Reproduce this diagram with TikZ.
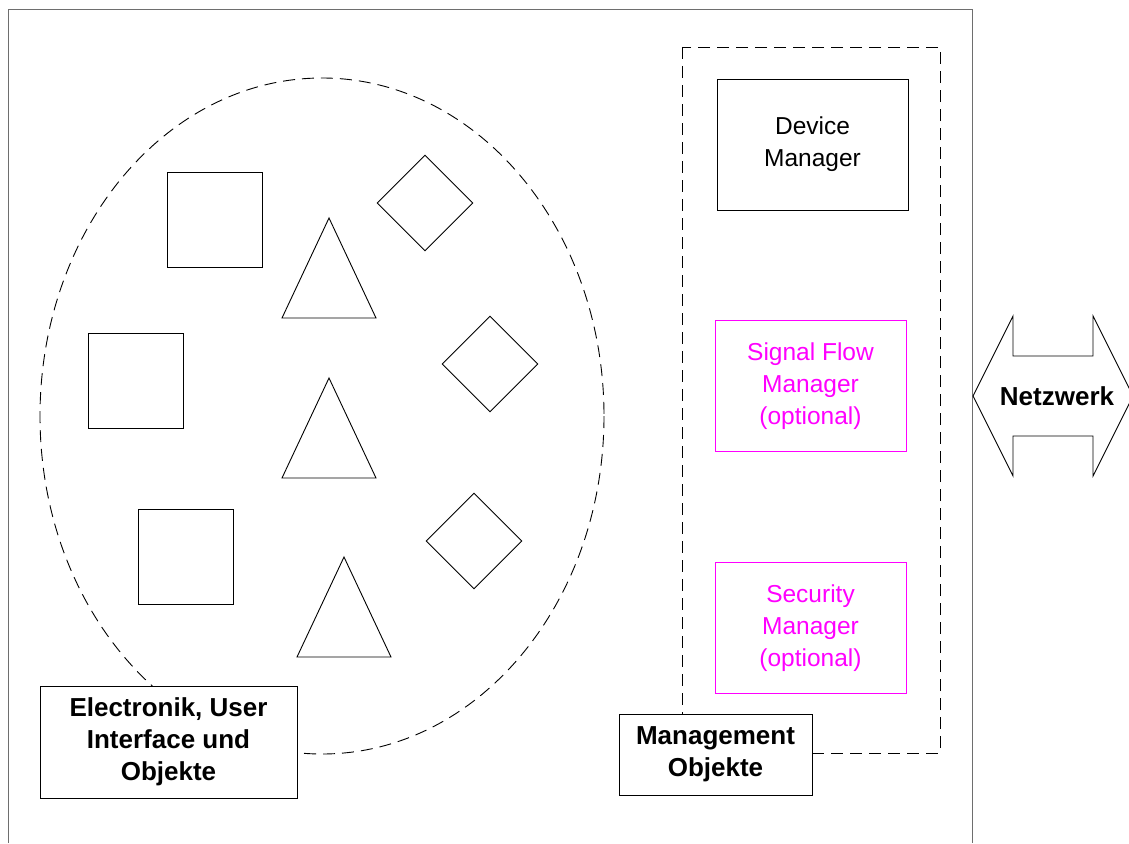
\documentclass[tikz,border=0pt]{standalone}
\usepackage{fontspec}
\setmainfont{Liberation Sans}
\usetikzlibrary{positioning,shapes.geometric}
\definecolor{optmag}{RGB}{255,0,255}
\definecolor{framegray}{RGB}{110,110,110}

\begin{document}
\begin{tikzpicture}[
		x=1pt, y=-1pt,
		line width=0.9pt,
		dashline/.style={dash pattern=on 12pt off 7pt},
		mgrbox/.style={
			draw,
			minimum width=191pt,
			minimum height=131pt,
			align=center,
			font=\fontsize{24.5}{32}\selectfont
		},
		optbox/.style={mgrbox, draw=optmag, text=optmag},
		tagbox/.style={
			draw,
			fill=white,
			align=center,
			inner sep=0pt,
			font=\fontsize{26}{32}\selectfont\bfseries
		},
		sq/.style={draw, minimum size=95pt, inner sep=0pt},
		dia/.style={draw, diamond, minimum size=96pt, inner sep=0pt}
		]
		
		\useasboundingbox (0,0) rectangle (1129,843);
		
		% outer frame, open at the bottom
		\draw[framegray] (8,843) -- (8,9) -- (972,9) -- (972,843);
		
		% objects
		\draw[dashline] (322,416) ellipse [x radius=282, y radius=338];
		
		\node[sq] (sq1) at (215,219.5) {};
		\node[sq] (sq2) at (136,380.5) {};
		\node[sq] (sq3) at (186,557) {};
		
		\node[dia] (dia1) at (425,203) {};
		\node[dia] (dia2) at (490,364) {};
		\node[dia] (dia3) at (474,541) {};
		
		\foreach \x/\y in {329/218, 329/378, 344/557}
		\draw (\x,\y) -- ++(47,100) -- ++(-94,0) -- cycle;
		
		% management column
		\draw[dashline] (682,47) rectangle (940,753);
		
		\node[mgrbox] (dev) at (812.5,144.5) {Device\\ Manager};
		
		\node[optbox] (flow) [below=110pt of dev, xshift=-2pt]
		{Signal Flow\\ Manager\\ (optional)};
		
		\node[optbox] (sec) [below=110pt of flow]
		{Security\\ Manager\\ (optional)};
		
		% labels
		\node[tagbox, minimum width=257pt, minimum height=112pt] (obj)
		at (168.5,742) {Electronik, User\\ Interface und\\ Objekte};
		
		\node[tagbox, minimum width=193pt, minimum height=81pt] (mgmt)
		at (715.5,754.5) {Management\\ Objekte};
		
		% network arrow
		\node[font=\fontsize{26}{32}\selectfont\bfseries] (netz) at (1057,396) {Netzwerk};
		\draw (973,396) -- (1013,316) -- (1013,356) -- (1093,356) -- (1093,316)
		-- (1133,396) -- (1093,476) -- (1093,436) -- (1013,436) -- (1013,476) -- cycle;
		
	\end{tikzpicture}
\end{document}
